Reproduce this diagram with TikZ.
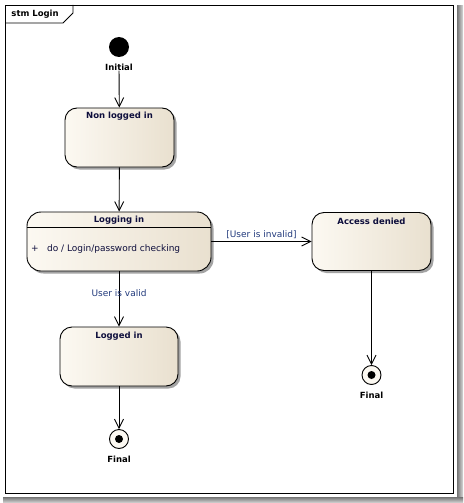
\documentclass[tikz,border=0pt]{standalone}
\usepackage{fontspec}
\setmainfont{DejaVu Sans}
\usepackage{tikz}
\usetikzlibrary{arrows.meta}
\usetikzlibrary{positioning}
\usetikzlibrary{shadows}
\definecolor{stateleft}{RGB}{252,249,242}
\definecolor{stateright}{RGB}{233,224,207}
\definecolor{titlenavy}{RGB}{14,14,60}
\definecolor{guardblue}{RGB}{34,58,124}

\begin{document}
\begin{tikzpicture}[x=1pt, y=-1pt, line width=0.9pt,
    statebox/.style = {draw, rounded corners=12pt, left color=stateleft, right color=stateright, inner sep=0pt,
        drop shadow={shadow xshift=2.5pt, shadow yshift=-2.5pt, fill=black!45, opacity=0.8}},
    statetitle/.style = {font=\fontsize{8.5}{10}\selectfont\bfseries, text=titlenavy, inner sep=0pt},
    pseudolabel/.style = {font=\fontsize{8.5}{10}\selectfont\bfseries, inner sep=0pt},
    guardlabel/.style = {font=\fontsize{9}{11}\selectfont, text=guardblue, inner sep=1pt},
    initstate/.style = {circle, fill=black, minimum size=20pt, inner sep=0pt},
    finalstate/.style = {circle, draw, fill=stateleft, minimum size=19pt, inner sep=0pt,
        path picture={\fill[black] (path picture bounding box.center) circle (4pt);}},
    trans/.style = {-{Straight Barb[length=9pt, width=9pt]}}]
    \useasboundingbox (0,0) rectangle (463,503);
    % page shadow
    \fill[left color=black!55, right color=black!15] (457,6) rectangle (463,503);
    \fill[top color=black!55, bottom color=black!15] (3,497) rectangle (463,503);
    % frame
    \draw (5,5) rectangle (453,493);
    \draw (5,23) -- (63,23) -- (73,13) -- (73,5);
    \node[statetitle, text=black, anchor=west] (frametitle) at (11,14) {stm Login};

    % states
    \node[initstate] (init) at (119,47) {};
    \node[pseudolabel, fill=white] (initlabel) at (119,67) {Initial};
    \node[statebox, minimum width=109pt, minimum height=59pt] (nonlogged) at (119.5,137.5) {};
    \node[statetitle] (nonloggedtitle) at ([yshift=-9pt]nonlogged.north) {Non logged in};
    \node[statebox, rounded corners=14pt, minimum width=184pt, minimum height=59pt] (logging) at (119,241.5) {};
    \node[statetitle] (loggingtitle) at ([yshift=-9pt]logging.north) {Logging in};
    \draw ([yshift=-16pt]logging.north west) -- ([yshift=-16pt]logging.north east);
    \node[guardlabel, text=titlenavy, anchor=west, inner sep=0pt] (loggingdo) at ([xshift=4pt, yshift=-37pt]logging.north west)
        {+\hspace{8.5pt}do / Login/password checking};
    \node[statebox, minimum width=119pt, minimum height=58pt] (denied) at (371.5,241.5) {};
    \node[statetitle] (deniedtitle) at ([yshift=-9pt]denied.north) {Access denied};
    \node[statebox, minimum width=118pt, minimum height=59pt] (logged) at (119,356.5) {};
    \node[statetitle] (loggedtitle) at ([yshift=-10pt]logged.north) {Logged in};
    \node[finalstate] (finala) at (119,439) {};
    \node[pseudolabel, below=7pt of finala] (finalalabel) {Final};
    \node[finalstate] (finalb) at (371.5,375) {};
    \node[pseudolabel, below=7pt of finalb] (finalblabel) {Final};

    % transitions
    \draw[trans] (initlabel) -- (nonlogged);
    \draw[trans] (nonlogged) -- (logging);
    \draw[trans] (logging) -- node[guardlabel, above=1pt] {[User is invalid]} (denied);
    \draw[trans] (logging) -- node[guardlabel, pos=0.39] {User is valid} (logged);
    \draw[trans] (logged) -- (finala);
    \draw[trans] (denied) -- (finalb);
\end{tikzpicture}
\end{document}
